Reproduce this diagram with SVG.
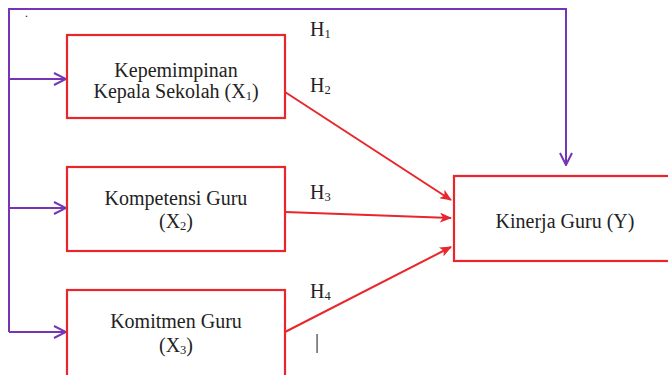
<svg xmlns="http://www.w3.org/2000/svg" width="668" height="375" viewBox="0 0 668 375">
<style>
.box{fill:#fff;stroke:#e8262b;stroke-width:2.2}
.red{fill:none;stroke:#e8262b;stroke-width:2}
.pur{fill:none;stroke:#7535b5;stroke-width:2}
.t{font-size:20px;fill:#222}
.c{text-anchor:middle}
.sub{font-size:12.5px}
</style>
<defs>
<marker id="ar" viewBox="0 0 12 10" refX="11" refY="5" markerWidth="12" markerHeight="10" markerUnits="userSpaceOnUse" orient="auto">
<path d="M0,0 L12,5 L0,10 L3,5 Z" fill="#e8262b"/>
</marker>
<marker id="ap" viewBox="0 0 14 14" refX="13" refY="7" markerWidth="14" markerHeight="14" markerUnits="userSpaceOnUse" orient="auto">
<path d="M1,1 L13,7 L1,13" fill="none" stroke="#7535b5" stroke-width="2"/>
</marker>
</defs>
<rect width="668" height="375" fill="#fff"/>
<g id="connectors">
<path class="pur" d="M9,332 L9,9 L566,9 L566,165" marker-end="url(#ap)"/>
<path class="pur" d="M9,79 L66,79" marker-end="url(#ap)"/>
<path class="pur" d="M9,208 L66,208" marker-end="url(#ap)"/>
<path class="pur" d="M9,332 L66,332" marker-end="url(#ap)"/>
<path class="red" d="M285,92 L451,200" marker-end="url(#ar)"/>
<path class="red" d="M285,212 L451,218" marker-end="url(#ar)"/>
<path class="red" d="M285,332 L451,247" marker-end="url(#ar)"/>
</g>
<g font-family="Liberation Serif, serif">
<g id="labels" class="t">
<text x="310" y="36">H<tspan class="sub" dy="2">1</tspan></text>
<text x="310" y="92">H<tspan class="sub" dy="2">2</tspan></text>
<text x="310" y="199">H<tspan class="sub" dy="2">3</tspan></text>
<text x="310" y="298">H<tspan class="sub" dy="2">4</tspan></text>
<text x="315" y="348">|</text>
<text x="25" y="17" style="font-size:12px">.</text>
</g>
<g id="x1" class="t">
<rect class="box" x="67" y="35" width="218" height="83"/>
<text class="c" x="176" y="77">Kepemimpinan</text>
<text class="c" x="176" y="98">Kepala Sekolah (X<tspan class="sub" dy="2">1</tspan><tspan dy="-2">)</tspan></text>
</g>
<g id="x2" class="t">
<rect class="box" x="67" y="167" width="218" height="84"/>
<text class="c" x="176" y="205">Kompetensi Guru</text>
<text class="c" x="176" y="228">(X<tspan class="sub" dy="2">2</tspan><tspan dy="-2">)</tspan></text>
</g>
<g id="x3" class="t">
<rect class="box" x="67" y="290" width="218" height="95"/>
<text class="c" x="176" y="328">Komitmen Guru</text>
<text class="c" x="176" y="352">(X<tspan class="sub" dy="2">3</tspan><tspan dy="-2">)</tspan></text>
</g>
<g id="y" class="t">
<rect class="box" x="454" y="176" width="225" height="85"/>
<text class="c" x="565" y="228">Kinerja Guru (Y)</text>
</g>
</g>
</svg>
